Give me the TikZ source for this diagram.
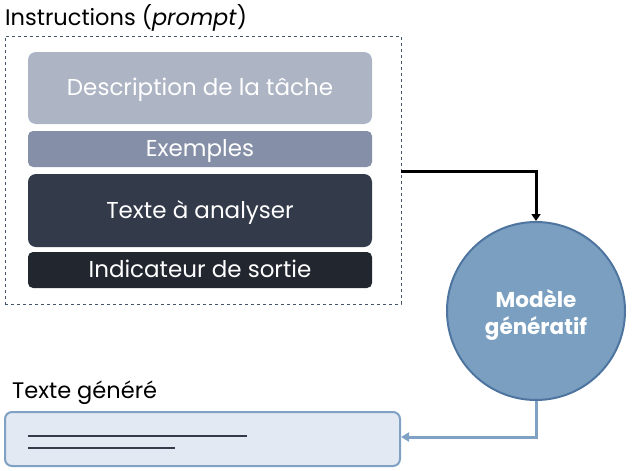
\documentclass[tikz,border=0pt]{standalone}
\usepackage{fontspec}
\setmainfont{Poppins}
\usetikzlibrary{arrows.meta}
\definecolor{cA}{HTML}{ADB4C4}
\definecolor{cB}{HTML}{8590A8}
\definecolor{cC}{HTML}{333A4A}
\definecolor{cD}{HTML}{22262F}
\definecolor{dashc}{HTML}{44546A}
\definecolor{circfill}{HTML}{7A9FC0}
\definecolor{circdraw}{HTML}{4E74A0}
\definecolor{outline}{HTML}{7EA1C4}
\definecolor{outfill}{HTML}{E3E9F2}
\tikzset{
  layer/.style={rounded corners=8pt, minimum width=344pt, inner sep=0pt},
  laytext/.style={anchor=base, inner sep=0pt, text=white, font=\fontsize{23}{25}\selectfont},
  modtext/.style={anchor=base, inner sep=0pt, text=white, font=\fontsize{21.5}{26}\selectfont\bfseries},
  lbl/.style={anchor=base west, inner sep=0pt, font=\fontsize{22.5}{25}\selectfont},
}
\begin{document}
\begin{tikzpicture}[x=1pt,y=-1pt]
\useasboundingbox (0,0) rectangle (632,471);
\node[lbl] (title) at (5,25) {Instructions (\textit{prompt})};
\node[draw=dashc, dashed, line width=0.8pt, minimum width=396pt, minimum height=268pt, inner sep=0pt] (frame) at (203,170) {};
\node[layer, fill=cA, minimum height=72pt] (desc) at (200,88) {};
\node[laytext] (desct) at (200,95.7) {Description de la tâche};
\node[layer, fill=cB, minimum height=36pt, rounded corners=5pt] (ex) at (200,149) {};
\node[laytext] (ext) at (200,156.7) {Exemples};
\node[layer, fill=cC, minimum height=73pt] (txt) at (200,210.5) {};
\node[laytext] (txtt) at (200,218.2) {Texte à analyser};
\node[layer, fill=cD, minimum height=36pt, rounded corners=5pt] (ind) at (200,270) {};
\node[laytext] (indt) at (200,277.7) {Indicateur de sortie};
\node[circle, fill=circfill, draw=circdraw, line width=2pt, minimum size=178pt, inner sep=0pt] (model) at (536,311) {};
\node[modtext] (mod1) at (536,307) {Modèle};
\node[modtext] (mod2) at (536,334) {génératif};
\coordinate (fr) at (frame.east |- 0,171);
\draw[line width=3pt, -{Triangle[length=7pt,width=9pt]}] (fr) -| (model.north);
\node[lbl] (gen) at (12,398) {Texte généré};
\node[draw=outline, fill=outfill, line width=2pt, rounded corners=7pt, minimum width=395pt, minimum height=54pt, inner sep=0pt] (out) at (202.5,439) {};
\coordinate (l1a) at (28,436); \coordinate (l1b) at (247,436);
\coordinate (l2a) at (28,448); \coordinate (l2b) at (175,448);
\draw[cC, line width=1.5pt] (l1a) -- (l1b);
\draw[cC, line width=1.5pt] (l2a) -- (l2b);
\draw[outline, line width=3pt, -{Triangle[length=8pt,width=9pt]}] (model.south) |- (out.east |- 0,437);
\end{tikzpicture}
\end{document}
